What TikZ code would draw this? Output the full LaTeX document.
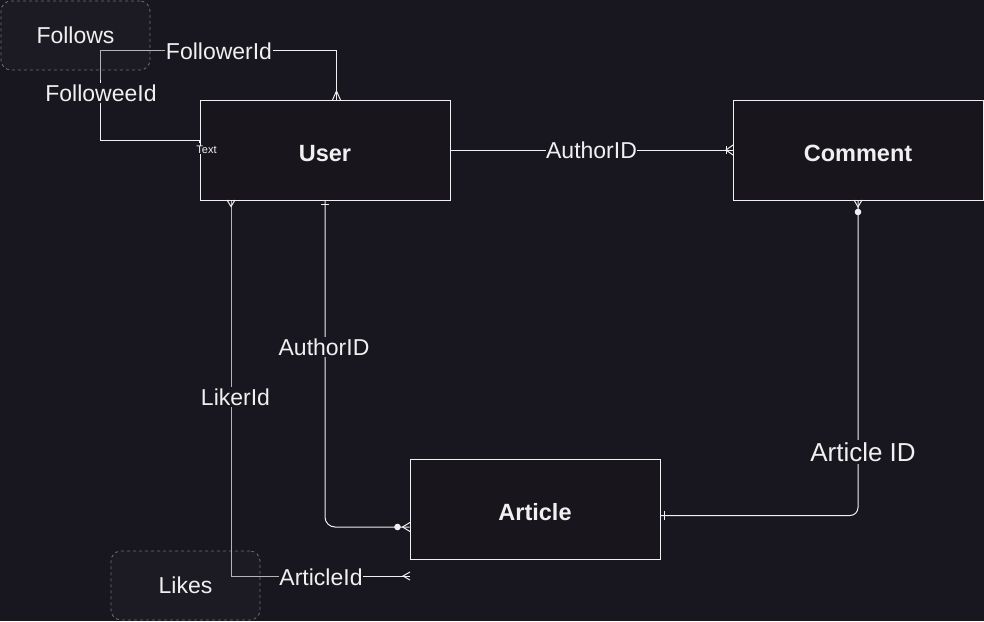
\documentclass[tikz,border=0pt]{standalone}
\usepackage{fontspec}
\setmainfont{Liberation Sans}
\usetikzlibrary{calc}
\definecolor{bgc}{HTML}{18161E}
\definecolor{boxfill}{HTML}{18151D}
\definecolor{softfill}{HTML}{1C1A22}
\definecolor{fg}{HTML}{F0F0F0}
\definecolor{dashc}{HTML}{707070}
\definecolor{greyline}{HTML}{B4B4B4}
\tikzset{
  entity/.style={draw=fg, fill=boxfill, line width=1pt, minimum width=250pt, minimum height=100pt, text=fg, font=\fontsize{23.5}{28}\selectfont\bfseries, inner sep=0pt, text height=22pt, text depth=0pt},
  softbox/.style={draw=dashc, fill=softfill, line width=0.8pt, dash pattern=on 3pt off 3pt, rounded corners=10pt, minimum width=149pt, minimum height=69pt, text=fg, font=\fontsize{23}{27}\selectfont, inner sep=0pt},
  conn/.style={draw=fg, line width=1pt},
  connsoft/.style={draw=greyline, line width=1pt},
  lbl/.style={fill=bgc, text=fg, font=\fontsize{23}{27}\selectfont, inner xsep=0.5pt, inner ysep=2pt},
  tinylbl/.style={fill=bgc, text=fg, font=\fontsize{11}{13}\selectfont, inner sep=0.5pt},
}
\begin{document}
\begin{tikzpicture}[x=1pt,y=-1pt]
\fill[bgc] (0,0) rectangle (984,621);
\useasboundingbox (0,0) rectangle (984,621);

% boxes
\node[softbox] (follows) at (75.5,35.5) {Follows};
\node[softbox] (likes) at (185.5,585.5) {Likes};
\node[entity] (user) at (325,150) {User};
\node[entity] (comment) at (858,150) {Comment};
\node[entity] (article) at (535,509) {Article};

% named ends
\coordinate (fa) at ([yshift=10pt]user.west);
\coordinate (fb) at ([xshift=11.5pt]user.north);
\coordinate (ua) at (user.south);
\coordinate (aa) at ([yshift=-18pt]article.west);
\coordinate (ca) at (comment.south);
\coordinate (ab) at ([yshift=-6.5pt]article.east);
\coordinate (ul) at ([xshift=-94pt]user.south);
\coordinate (al) at ([yshift=-67pt]article.west);

% Follows connector
\draw[conn] (fa) -- (100,140) -- (100,50.5) -- (336.5,50.5) -- (fb);
\draw[connsoft] (100,80) -- (100,50.5) -- (166,50.5);
\draw[conn] (fa) -- ++(0,3);
\draw[conn] (332.5,100) -- (336.5,91) -- (340.5,100);
\node[lbl] (lfee) at (101,93) {FolloweeId};
\node[lbl] (lfer) at (219,51) {FollowerId};

% User - Comment
\draw[conn] (user.east) -- (comment.west) node[lbl, midway] (lauth1) {AuthorID};
\draw[conn] (726,146) -- (726,154);
\draw[conn] (733,145) -- (726,150) -- (733,155);

% User - Article
\draw[conn, rounded corners=10pt] (ua) |- (aa);
\draw[conn] (321,204) -- (329,204);
\fill[fg] (397.5,527) circle (3.3pt);
\draw[conn] (410,522.5) -- (402.5,527) -- (410,531.5);
\node[lbl] (lauth2) at (324,347) {AuthorID};

% Comment - Article
\draw[conn, rounded corners=8pt] (ca) |- (ab);
\draw[conn] (854,200) -- (858,207) -- (862,200);
\fill[fg] (858,212) circle (3.3pt);
\draw[conn] (664,511) -- (664,520);
\node[lbl, font=\fontsize{26}{30}\selectfont] (lart) at (863,452) {Article ID};

% Likes
\draw[conn] (ul) |- (al);
\draw[connsoft] (ul) |- (281,576);
\draw[conn] (227,200) -- (231,206.5) -- (235,200);
\draw[conn] (410,572) -- (403,576) -- (410,580);
\node[lbl] (llik) at (235.5,397) {LikerId};
\node[lbl] (lartid) at (321,577) {ArticleId};

% tiny label
\node[tinylbl] (ttext) at (206.5,150) {Text};
\end{tikzpicture}
\end{document}
